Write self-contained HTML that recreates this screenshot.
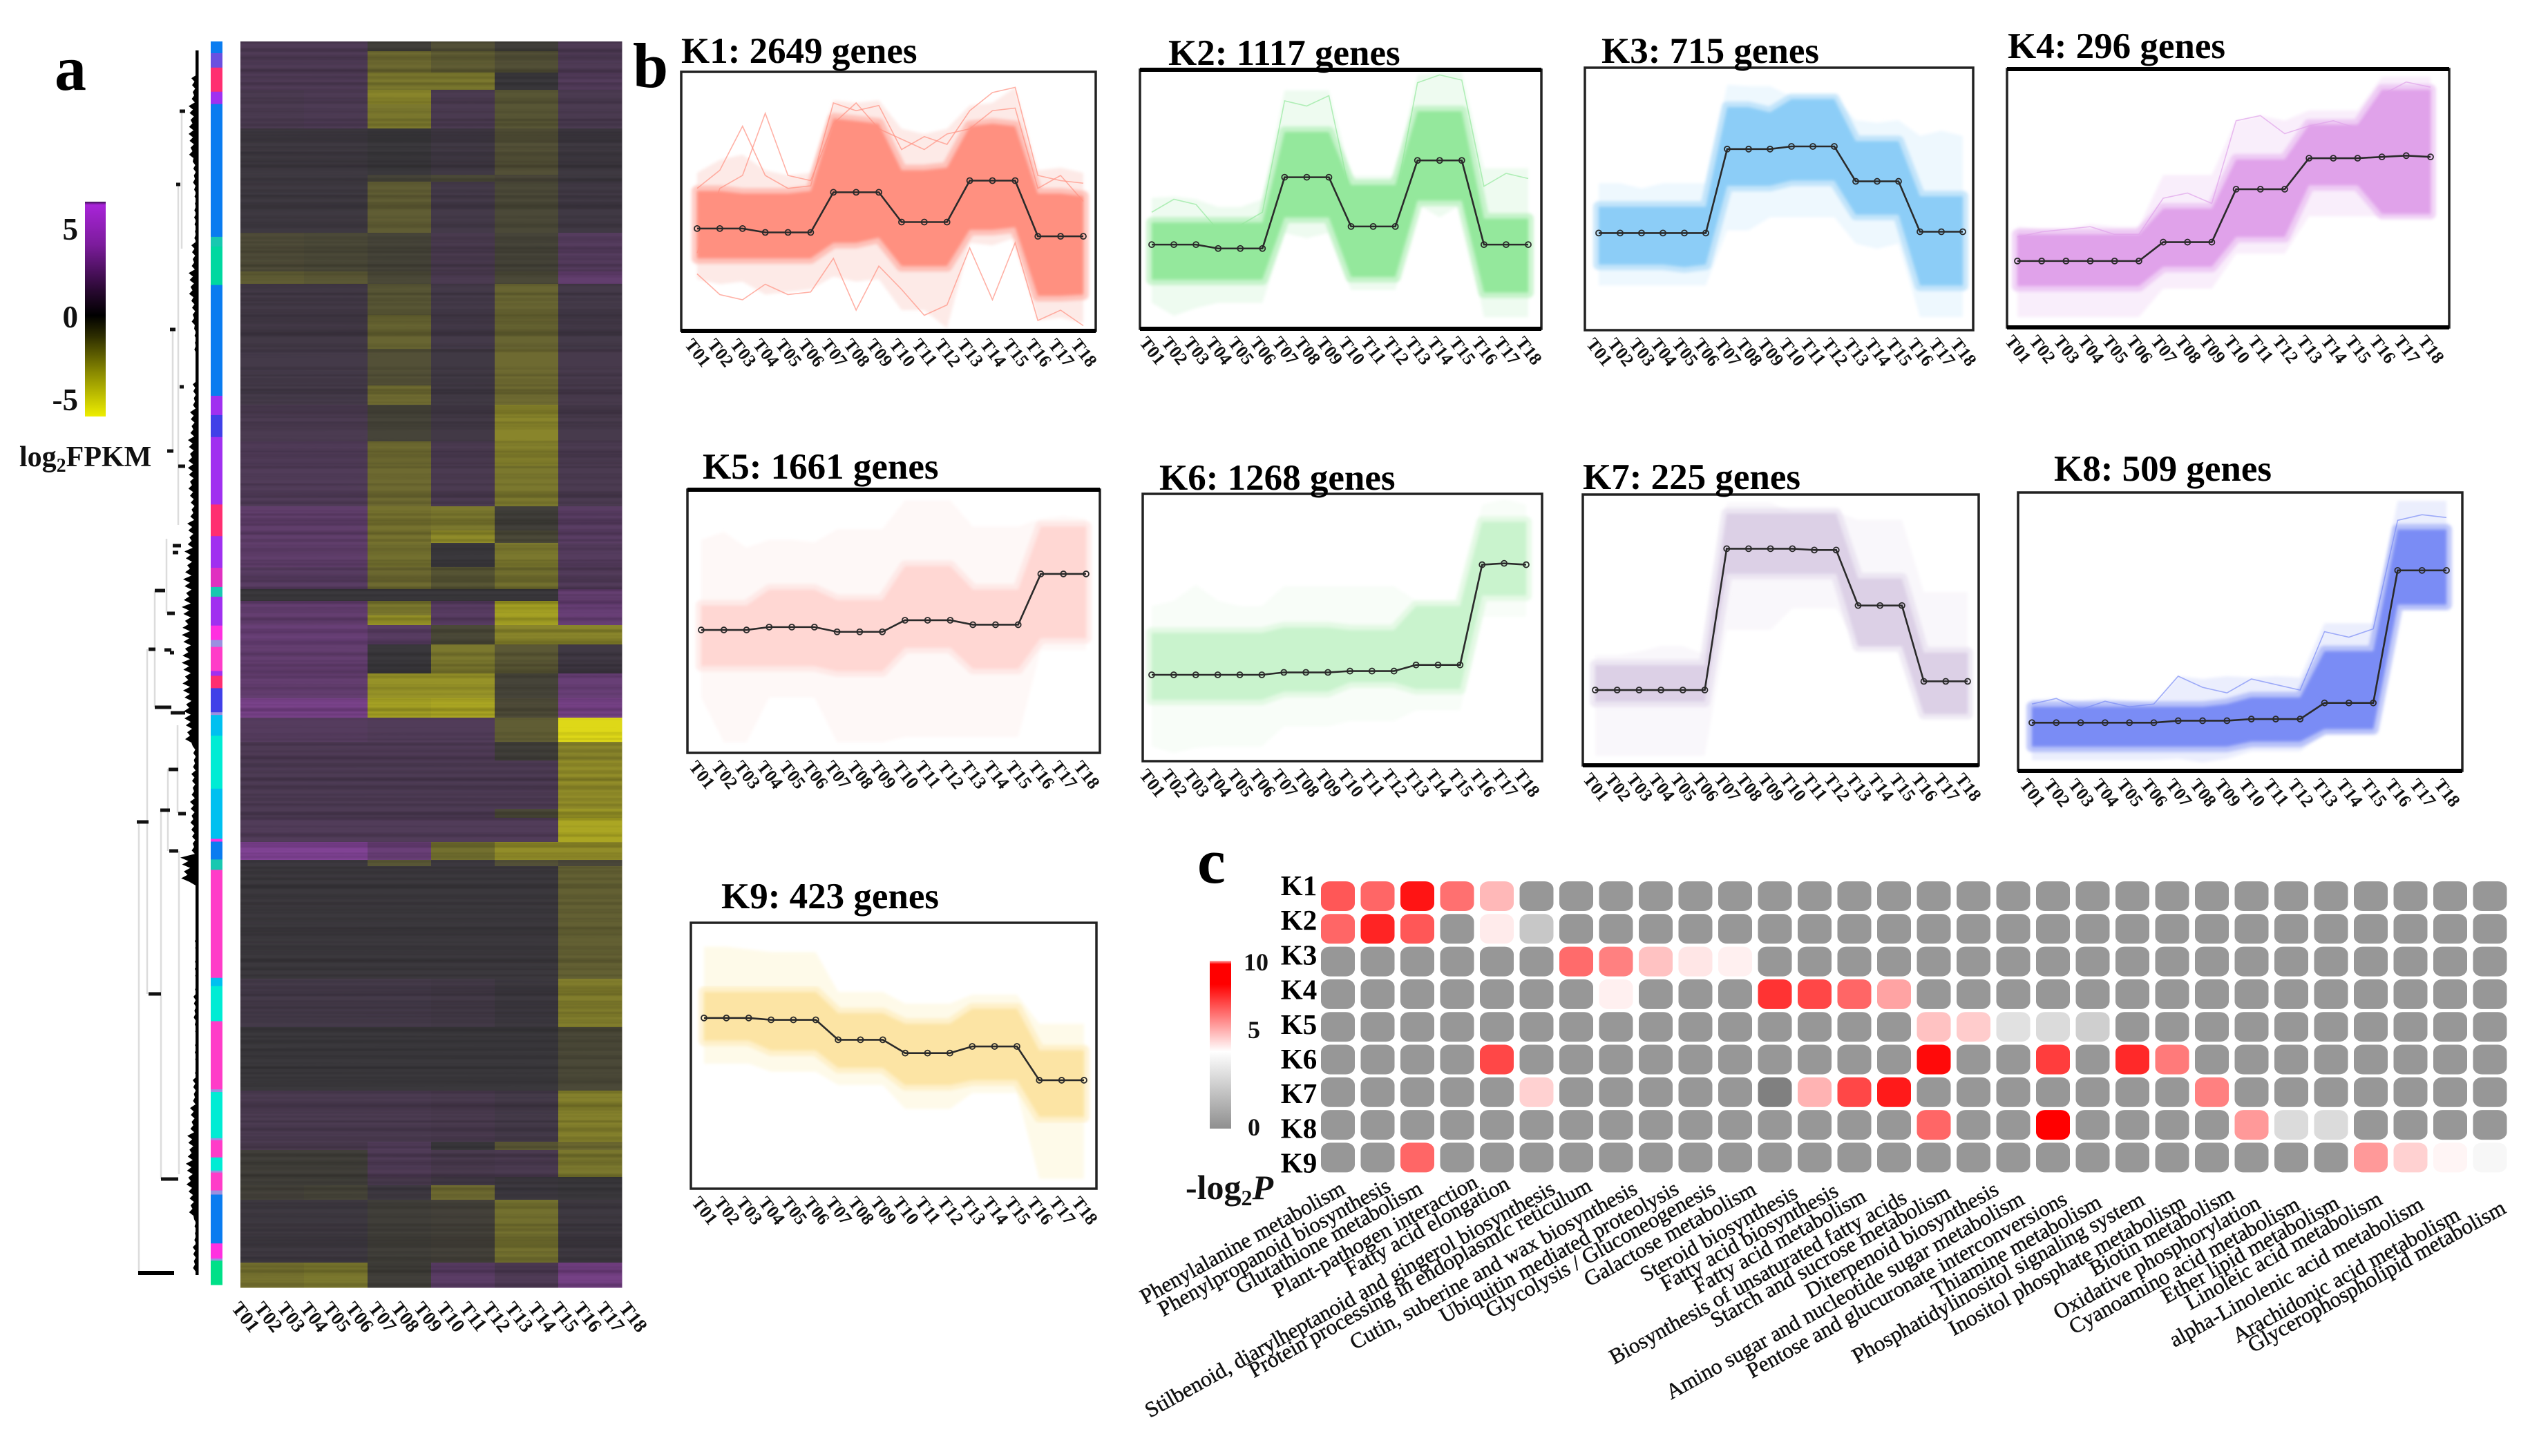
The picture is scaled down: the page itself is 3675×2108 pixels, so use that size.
<!DOCTYPE html>
<html lang="en">
<head>
<meta charset="utf-8">
<title>Gene expression clusters figure</title>
<style>
html,body{margin:0;padding:0;background:#fff;}
svg{display:block;font-family:"Liberation Serif",serif;}
.panel-letter{font-size:92px;font-weight:bold;fill:#000;}
.cluster-title{font-size:53px;font-weight:bold;fill:#000;}
.tick{font-size:26px;font-weight:bold;fill:#111;}
.path-label{font-size:31.5px;fill:#111;stroke:#111;stroke-width:.5;text-anchor:end;}
.row-label{font-size:41px;font-weight:bold;fill:#000;text-anchor:middle;dominant-baseline:central;}
.legend-num{font-size:45px;font-weight:bold;fill:#111;text-anchor:end;}
</style>
</head>
<body>
<svg id="figure" xmlns="http://www.w3.org/2000/svg" width="3675" height="2108" viewBox="0 0 3675 2108">
<defs>
<linearGradient id="expr-grad" x1="0" y1="0" x2="0" y2="1">
<stop offset="0" stop-color="#3a1050"/><stop offset="0.015" stop-color="#a824d8"/><stop offset="0.2" stop-color="#7c1c9c"/><stop offset="0.42" stop-color="#26082e"/><stop offset="0.53" stop-color="#000"/><stop offset="0.62" stop-color="#2a2a00"/><stop offset="0.8" stop-color="#8c8c00"/><stop offset="1" stop-color="#eeee00"/>
</linearGradient>
<linearGradient id="enrich-grad" x1="0" y1="0" x2="0" y2="1">
<stop offset="0" stop-color="#ffb0b0"/><stop offset="0.02" stop-color="#ff0000"/><stop offset="0.14" stop-color="#ff0000"/><stop offset="0.54" stop-color="#ffffff"/><stop offset="1" stop-color="#8f8f8f"/>
</linearGradient>
<filter id="soft" x="-5%" y="-5%" width="110%" height="110%"><feGaussianBlur stdDeviation="3"/></filter>
<filter id="soft-faint" x="-5%" y="-5%" width="110%" height="110%"><feGaussianBlur stdDeviation="2"/></filter>
<filter id="stripes" x="0" y="0" width="100%" height="100%">
<feTurbulence type="fractalNoise" baseFrequency="0.0004 0.16" numOctaves="2" seed="5"/>
<feColorMatrix type="matrix" values="0 0 0 0 0  0 0 0 0 0  0 0 0 0 0  2.2 0 0 0 -0.85"/>
</filter>
</defs>

<text class="panel-letter" x="79" y="130">a</text>
<text class="panel-letter" x="916" y="126">b</text>
<text class="panel-letter" x="1733" y="1278">c</text>

<!-- Expression colour key -->
<rect x="123" y="292" width="30" height="311" fill="url(#expr-grad)"/>
<text class="legend-num" x="113" y="347">5</text>
<text class="legend-num" x="113" y="474">0</text>
<text class="legend-num" x="113" y="594">-5</text>
<text x="28" y="675" font-size="42" font-weight="bold" fill="#111">log<tspan font-size="28" dy="8">2</tspan><tspan dy="-8">FPKM</tspan></text>

<!-- Dendrogram branches -->
<g>
<path d="M201 1190V1843M213 940V1439M224 855V1024M233 1173V1707M241 780V888M243 1113V1232M257 1050V1177M259 1232V1700M258 267V760M250 477V653M263 161V360" fill="none" stroke="#dcdcdc" stroke-width="2.5"/>
<path d="M198 1190H215M215 940H225M224 855H239M224 1024H248M232 1173H246M244 1114H258M258 1178H269M245 1232H258M242 888H253M238 941H248M247 1032H268M242 653H251M246 477H254M255 267H261M260 161H268M215 1439H233M233 1707H258M260 560H266M258 675H268M250 800H258M246 945H252M250 790H262" fill="none" stroke="#111" stroke-width="5"/>
<path d="M200 1843H252" fill="none" stroke="#000" stroke-width="6"/>
</g>
<g id="dendrogram-leaves"></g>
<g id="annotation-strip"></g>
<g id="heatmap"></g>
<rect x="348" y="60" width="552" height="1804" filter="url(#stripes)" opacity="0.2"/>
<g id="heatmap-ticks"></g>
<g id="panels"></g>
<g id="enrichment"></g>

<!-- Enrichment colour key -->
<rect x="1751" y="1391" width="31" height="243" fill="url(#enrich-grad)"/>
<text x="1800" y="1405" font-size="36" font-weight="bold" fill="#111">10</text>
<text x="1806" y="1503" font-size="36" font-weight="bold" fill="#111">5</text>
<text x="1806" y="1644" font-size="36" font-weight="bold" fill="#111">0</text>
<text x="1716" y="1736" font-size="50" font-weight="bold" fill="#111">-log<tspan font-size="32" dy="9">2</tspan><tspan dy="-9" font-style="italic">P</tspan></text>

<!-- Pathway labels -->
<g>
<text class="path-label" transform="translate(1949,1727) rotate(-29)">Phenylalanine metabolism</text>
<text class="path-label" transform="translate(2015,1723) rotate(-29)">Phenylpropanoid biosynthesis</text>
<text class="path-label" transform="translate(2061,1727) rotate(-29)">Glutathione metabolism</text>
<text class="path-label" transform="translate(2141,1718) rotate(-29)">Plant-pathogen interaction</text>
<text class="path-label" transform="translate(2187,1720) rotate(-29)">Fatty acid elongation</text>
<text class="path-label" transform="translate(2253,1727) rotate(-29)">Stilbenoid, diarylheptanoid and gingerol biosynthesis</text>
<text class="path-label" transform="translate(2306,1723) rotate(-29)">Protein processing in endoplasmic reticulum</text>
<text class="path-label" transform="translate(2372,1727) rotate(-29)">Cutin, suberine and wax biosynthesis</text>
<text class="path-label" transform="translate(2432,1727) rotate(-29)">Ubiquitin mediated proteolysis</text>
<text class="path-label" transform="translate(2485,1727) rotate(-29)">Glycolysis / Gluconeogenesis</text>
<text class="path-label" transform="translate(2544,1728) rotate(-29)">Galactose metabolism</text>
<text class="path-label" transform="translate(2604,1733) rotate(-29)">Steroid biosynthesis</text>
<text class="path-label" transform="translate(2663,1730) rotate(-29)">Fatty acid biosynthesis</text>
<text class="path-label" transform="translate(2703,1738) rotate(-29)">Fatty acid metabolism</text>
<text class="path-label" transform="translate(2762,1740) rotate(-29)">Biosynthesis of unsaturated fatty acids</text>
<text class="path-label" transform="translate(2825,1733) rotate(-29)">Starch and sucrose metabolism</text>
<text class="path-label" transform="translate(2895,1728) rotate(-29)">Diterpenoid biosynthesis</text>
<text class="path-label" transform="translate(2932,1742) rotate(-29)">Amino sugar and nucleotide sugar metabolism</text>
<text class="path-label" transform="translate(2994,1742) rotate(-29)">Pentose and glucuronate interconversions</text>
<text class="path-label" transform="translate(3044,1747) rotate(-29)">Thiamine metabolism</text>
<text class="path-label" transform="translate(3106,1743) rotate(-29)">Phosphatidylinositol signaling system</text>
<text class="path-label" transform="translate(3166,1747) rotate(-29)">Inositol phosphate metabolism</text>
<text class="path-label" transform="translate(3236,1735) rotate(-29)">Biotin metabolism</text>
<text class="path-label" transform="translate(3274,1748) rotate(-29)">Oxidative phosphorylation</text>
<text class="path-label" transform="translate(3331,1750) rotate(-29)">Cyanoamino acid metabolism</text>
<text class="path-label" transform="translate(3388,1748) rotate(-29)">Ether lipid metabolism</text>
<text class="path-label" transform="translate(3450,1742) rotate(-29)">Linoleic acid metabolism</text>
<text class="path-label" transform="translate(3510,1750) rotate(-29)">alpha-Linolenic acid metabolism</text>
<text class="path-label" transform="translate(3563,1765) rotate(-29)">Arachidonic acid metabolism</text>
<text class="path-label" transform="translate(3629,1755) rotate(-29)">Glycerophospholipid metabolism</text>
</g>
</svg>

<script>
/* ---------- sample labels ---------- */
const sampleLabels = ['T01','T02','T03','T04','T05','T06','T07','T08','T09','T10','T11','T12','T13','T14','T15','T16','T17','T18'];

/* ---------- panel a: heatmap bands (gene-row span, then value per sample triple) ---------- */
const rowSpans = [14,31,25,21,35,67,10,74,56,18,45,49,53,28,53,35,59,35,18,35,32,17,21,14,28,42,36,28,35,27,70,13,35,26,9,163,70,92,74,12,39,12,21,91,36];
const rowValues = [
 [1,1,-.3,-1,-.3,1],[1,1,-2,-1.5,-1,1],[1,1,-2.5,-2.5,0,1.2],[.8,.9,-3,.8,-1.2,.8],[.8,.9,-2.5,.8,-1.2,.8],
 [.2,.2,0,.3,-1,.2],[.2,.2,-.5,-.7,-.6,.2],[.2,.2,-1.5,.5,-.7,.3],[-.8,-.7,-.5,.7,-.5,1.3],[-1.5,-1.3,-.7,.8,-.7,1.9],
 [.4,.4,-1.2,.5,-1.8,.5],[.4,.4,-1.8,.5,-1.8,.5],[.5,.5,-1,.3,-2,.6],[.5,.5,-2,.3,-2,.6],[.8,.8,-.5,.4,-3,.6],
 [1.1,1.1,-2,.8,-2.8,.8],[1.1,1.1,-2,.8,-2.5,.8],[1.8,1.8,-2.3,-2.5,-.3,1.5],[1.8,1.8,-2.3,-3.2,-.7,1.5],[1.8,1.8,-2.2,0,-2.5,1.3],
 [1.5,1.5,-2,-1.2,-2.2,1.2],[0,0,0,0,0,2],[2,2,-2.5,1.5,-4,2.2],[2,2,-3.5,1.5,-4,2.2],[2.2,2.2,1.5,-.7,-3,-3],
 [2,2,0,-2.5,-1.3,.3],[2,2,-3.5,-3.5,-.5,2.2],[3,3,-4,-4.2,-.8,2.8],[1.3,1.3,1.1,1.1,-1.5,-6],[1,1,1,1,-.3,-3],
 [.9,.9,.9,.9,.9,-3.3],[.9,.9,.9,.9,-.7,-3.6],[1.1,1.1,1.1,1.1,1.1,-4.2],[3.4,3.4,2.3,-2.2,-3.3,-3.3],[.1,.1,-1.2,.1,-1,-.6],
 [.05,.05,.05,.05,.05,-1.6],[.5,.5,.5,.4,.1,-2.7],[0,0,0,0,0,-.7],[.8,.8,.8,.7,.5,-2.8],[.7,.7,1.1,0,-1.3,-2],
 [-.3,-.3,1,.7,.8,-2.5],[-.3,-.3,.7,.4,.1,0],[-.4,-.5,.2,-2,.1,0],[.2,.2,-.3,-.4,-2.2,.2],[-2.3,-2.5,-.3,1.6,1,2.8]
];
/* annotation strip: span then colour class */
const stripSpans = [17,21,35,18,193,14,56,161,28,32,98,46,46,28,14,42,21,10,35,7,18,35,4,30,77,73,4,26,15,13,144,12,51,4,95,4,67,3,25,19,3,26,6,71,22,3,35];
const stripClasses = ['blue','violet','rose','purple','blue','teal','mint','blue','purple','indigo','purple','rose','purple','magenta','teal','purple','hot','lav','pink','purple','rose','indigo','lav','sky','aqua','sky','hot','blue','teal','pink','pink','sky','aqua','pink','pink','lav','aqua','lav','pink','aqua','lav','pink','lav','blue','hot','lav','green'];
/* dendrogram leaf depth, sampled evenly top to bottom */
const leafDepths = [4,10,14,14,8,6,6,10,14,10,6,4,8,12,15,15,12,16,20,22,24,24,24,22,20,8,10,12,10,26,4,4,5,5,7,5,5,8,12,16,18,14,6,8,20];

/* ---------- panel b: cluster profiles, percent of plot height ---------- */
const medianK1 = [39.5,39.5,39.5,38,38,38,53.5,53.5,53.5,42,42,42,58,58,58,36.5,36.5,36.5];
const denseHighK1 = [54,54,53,53,53,54,82,81,80,62,62,63,79,80,79,53,53,52];
const denseLowK1 = [28,28,28,28,28,28,34,34,36,25,25,25,39,39,40,13.5,13.5,14];
const faintHighK1 = [61,66,68,62,60,61,89,88,89,78,76,78,87,88,94,62,63,61];
const faintLowK1 = [20,18,19,14,15,16,21,19,20,8,8,1,34,33,36,4,5,3];
const outlierAK1 = [55,62,79,60,55,56,88,85,87,70,75,72,85,92,94,60,58,57];
const outlierBK1 = [30,55,60,84,60,58,80,88,78,74,70,76,78,85,86,55,60,50];
const outlierCK1 = [22,14,12,18,14,15,28,8,25,16,6,10,32,12,34,4,8,2];

const medianK2 = [32.5,32.5,32.5,31,31,31,58.5,58.5,58.5,39.5,39.5,39.5,65,65,65,32.5,32.5,32.5];
const denseHighK2 = [41,41,41,41,41,41,76,76,76,55.5,55.5,55.5,84,84,84,42.5,42.5,42.5];
const denseLowK2 = [19,19,19,19,19,19,43,43,43,20,20,20,49.5,49.5,49.5,14,14,14];
const faintHighK2 = [50.5,51,50,47,47,50,92,92,92,59,59,59,98,99,99,62,62,62];
const faintLowK2 = [10,5,8,10,10,10,37,35,37,15,15,15,48,43,48,4.5,4.5,4.5];
const outlierAK2 = [45,50,48,38,40,45,88,86,90,50,52,50,95,98,96,55,60,58];

const medianK3 = [37,37,37,37,37,37,69,69,69,70,70,70,56.7,56.7,56.7,37.5,37.5,37.5];
const denseHighK3 = [47,47,47,47,47,47,85,85,83,88,88,88,72,72,72,51,51,51];
const denseLowK3 = [25,25,25,25,24,25,55,55,55,57,57,57,44,44,44,17,17,17];
const faintHighK3 = [56,56,54,56,56,56,93.5,93,93,89,89,89,80,79,80,74,76,74];
const faintLowK3 = [17,17,17,17,17,17,38,38,43,43,43,43,33,31,33,5,5,5];

const medianK4 = [25.7,25.7,25.7,25.7,25.7,25.7,33,33,33,53.5,53.5,53.5,65.5,65.5,65.5,66,66.5,66];
const denseHighK4 = [36,36,36,36,36,36,46,46,46,65,65,65,78.5,78.5,78.5,92,92,92];
const denseLowK4 = [16,16,16,16,16,16,23.5,23.5,23.5,35,35,35,55,55,55,44,44,44];
const faintHighK4 = [39,38,38,40,39,39,59,59,59,80,82,80,84,84,84,97,97,97];
const faintLowK4 = [4,4,4,4,4,4,15,15,15,28.5,28.5,28.5,43,43,43,43,43,43];
const outlierAK4 = [35,37,38,39,36,36,50,52,48,80,82,75,78,80,77,90,95,93];

const medianK5 = [46.7,46.7,46.7,47.8,47.8,47.8,46,46,46,50.4,50.4,50.4,48.7,48.7,48.7,68,68,68];
const denseHighK5 = [56,56,56,62,62,62,58,58,58,71,71,71,62,62,62,86,86,86];
const denseLowK5 = [33,33,33,33,33,33,31,31,31,40,40,40,32,32,32,43.6,43.6,43.6];
const faintHighK5 = [81,84,78,81,81,80,85,85,85,96,96,96,86,86,86,89,90,89];
const faintLowK5 = [21,4,4,21,21,21,4,4,4,6,6,6,6,6,6,39,39,39];

const medianK6 = [32.3,32.3,32.3,32.3,32.3,32.3,33.2,33.2,33.2,33.7,33.7,33.7,36,36,36,73.5,74,73.5];
const denseHighK6 = [48,48,48,48,48,48,50,50,50,49,49,49,58,58,58,89.5,89.5,89.5];
const denseLowK6 = [23,23,23,23,23,23,26,26,26,29.5,29.5,29.5,27,27,27,62,62,62];
const faintHighK6 = [58,60,66,60,58,58,65.5,65.5,65.5,65.5,65.5,65.5,60,60,60,96,98,96];
const faintLowK6 = [5.5,3,5,5.5,5.5,5.5,13,13,13,15,15,15,19,19,19,54,54,54];

const medianK7 = [27.8,27.8,27.8,27.8,27.8,27.8,80,80,80,80,79.5,79.5,59,59,59,31,31,31];
const denseHighK7 = [37,37,37,37,37,37,93,93,93,93,93,93,69,69,69,41.6,41.6,41.6];
const denseLowK7 = [23.5,23.5,23.5,23.5,23.5,23.5,70.7,70.7,70.7,70.7,70.7,70.7,44,44,44,19,19,19];
const faintHighK7 = [40.7,40.7,42,44,44,41,97,97,97,93.5,93.5,93.5,90.7,90.7,90.7,64,64,64];
const faintLowK7 = [3.5,3.5,3.5,3.5,3.5,3.5,50,50,50,58,58,58,44,44,44,18.5,18.5,18.5];

const medianK8 = [17.3,17.3,17.3,17.3,17.3,17.3,18,18,18,18.6,18.6,18.6,24.4,24.4,24.4,72,72,72];
const denseHighK8 = [23,23,23,23,23,23,23,23,24,26.4,26.4,26.4,43,43,43,86.7,86.7,86.7];
const denseLowK8 = [8.7,8.7,8.7,8.7,8.7,8.7,8.7,8.7,8.7,10.5,10.5,10.5,15,15,15,59.7,59.7,59.7];
const faintHighK8 = [25.5,26,25,26,25,24,34,33,34,33.5,34,33.5,53,53,53,97,97,97];
const faintLowK8 = [3.8,3.8,3.8,3.8,3.8,3.8,4.3,3,4.3,7,7,7,13.5,13.5,13.5,58,58,58];
const outlierAK8 = [24,26,22,25,23,24,34,30,28,33,31,29,50,48,51,90,92,91];

const medianK9 = [64.2,64.2,64.2,63.5,63.5,63.5,56,56,56,51,51,51,53.5,53.5,53.5,40.8,40.8,40.8];
const denseHighK9 = [74,74,74,74,74,74,66,66,66,62,62,62,67.7,67.7,67.7,52,52,52];
const denseLowK9 = [55.7,55.7,55.7,52,52,52,45.5,45.5,45.5,39,39,39,40.8,40.8,40.8,27,27,27];
const faintHighK9 = [91,91,90,89,89,89,74,74,74,69.6,69.6,69.6,73,73,73,62,62,62];
const faintLowK9 = [47,47,47,44,44,44,39,39,39,30,30,30,36,36,36,3.7,3.7,3.7];

/* ---------- panel c: -log2 P per pathway ---------- */
const clusterNames = ['K1','K2','K3','K4','K5','K6','K7','K8','K9'];
const enrichK1 = [8.3,8,9.6,7.8,6.4,.9,.9,.9,.9,.9,.9,.9,.9,.9,.9,.9,.9,.9,.9,.9,.9,.9,.9,.9,.9,.9,.9,.9,.9,.9];
const enrichK2 = [8,9.3,8.3,.9,5.4,2.8,.9,.9,.9,.9,.9,.9,.9,.9,.9,.9,.9,.9,.9,.9,.9,.9,.9,.9,.9,.9,.9,.9,.9,.9];
const enrichK3 = [.9,.9,.9,.9,.9,.9,7.9,7.5,6.2,5.5,5.3,.9,.9,.9,.9,.9,.9,.9,.9,.9,.9,.9,.9,.9,.9,.9,.9,.9,.9,.9];
const enrichK4 = [.9,.9,.9,.9,.9,.9,.9,5.3,.9,.9,.9,9,8.6,8,6.8,.9,.9,.9,.9,.9,.9,.9,.9,.9,.9,.9,.9,.9,.9,.9];
const enrichK5 = [.9,.9,.9,.9,.9,.9,.9,.9,.9,.9,.9,.9,.9,.9,.9,6.2,6,3.8,3.6,3.1,.9,.9,.9,.9,.9,.9,.9,.9,.9,.9];
const enrichK6 = [.9,.9,.9,.9,8.6,.9,.9,.9,.9,.9,.9,.9,.9,.9,.9,9.8,.9,.9,8.8,.9,9.2,7.6,.9,.9,.9,.9,.9,.9,.9,.9];
const enrichK7 = [.9,.9,.9,.9,.9,5.9,.9,.9,.9,.9,.9,0,6.5,8.6,9.5,.9,.9,.9,.9,.9,.9,.9,7.5,.9,.9,.9,.9,.9,.9,.9];
const enrichK8 = [.9,.9,.9,.9,.9,.9,.9,.9,.9,.9,.9,.9,.9,.9,.9,8,.9,.9,10,.9,.9,.9,.9,7,3.6,3.6,.9,.9,.9,.9];
const enrichK9 = [.9,.9,8,.9,.9,.9,.9,.9,.9,.9,.9,.9,.9,.9,.9,.9,.9,.9,.9,.9,.9,.9,.9,.9,.9,.9,7,5.9,5.2,4.7];

/* ---------- helpers ---------- */
const NS = 'http://www.w3.org/2000/svg';
function mk(tag, attrs, parent){
  const el = document.createElementNS(NS, tag);
  for (const k in attrs) el.setAttribute(k, attrs[k]);
  parent.appendChild(el);
  return el;
}
function hex(a){ return '#' + a.map(v => Math.round(v).toString(16).padStart(2,'0')).join(''); }
function mix(a,b,t){ return a.map((v,i) => v + (b[i]-v)*t); }

/* ---------- heatmap colour + axis ---------- */
const neutral = [58,56,60], purple = [150,70,175], olive = [222,216,24];
function exprColor(v){
  if (v >= 0) return hex(mix(neutral, purple, Math.min(v/4.4,1)));
  return hex(mix(neutral, olive, Math.min(Math.pow(-v/6,1.05),1)));
}
const heatLeft = 348, heatTop = 60, heatWidth = 552, heatHeight = 1804;
function heatX(group){ return heatLeft + group*heatWidth/6; }

const hmGroup = document.getElementById('heatmap');
const spanTotal = rowSpans.reduce((a,b)=>a+b,0);
function heatY(units){ return heatTop + units*heatHeight/spanTotal; }
let cursor = 0;
rowSpans.forEach(function(span,r){
  const y0 = heatY(cursor), y1 = heatY(cursor+span);
  rowValues[r].forEach(function(v,g){
    const cell = mk('rect',{x:heatX(g),y:y0,width:heatX(g+1)-heatX(g)+0.5,height:y1-y0+0.5,fill:exprColor(v)},hmGroup);
    
    
  });
  cursor += span;
});

const hmTicks = document.getElementById('heatmap-ticks');
sampleLabels.forEach(function(label,i){
  const x = 334 + i*33;
  const t = mk('text',{class:'tick',transform:'translate('+x+',1894) rotate(52)','font-size':'28',style:'font-size:28px'},hmTicks);
  t.textContent = label;
  
  
});

/* ---------- annotation strip ---------- */
const stripPalette = {blue:'#0a7cf0',violet:'#6a50e0',rose:'#ff2e70',purple:'#a030f0',teal:'#18c8b0',mint:'#00d8a0',indigo:'#4040e8',magenta:'#e030c0',hot:'#ff30e0',lav:'#9a90e0',pink:'#ff3cc8',sky:'#00c0f0',aqua:'#00ecd4',green:'#00e088'};
const stripGroup = document.getElementById('annotation-strip');
const stripTotal = stripSpans.reduce((a,b)=>a+b,0);
let stripCursor = 0;
stripSpans.forEach(function(span,i){
  const y0 = 60 + stripCursor*(1860-60)/stripTotal;
  const h = span*(1860-60)/stripTotal;
  const seg = mk('rect',{x:305,y:y0,width:17,height:h+0.5,fill:stripPalette[stripClasses[i]]},stripGroup);
  
  
  stripCursor += span;
});

/* ---------- dendrogram leaves ---------- */
const leafGroup = document.getElementById('dendrogram-leaves');
const leafTop = 73, leafBottom = 1846, leafRight = 287;
const toothShape = [1,.55,.9,.45,.8,.6,.95,.5];
function leafY(i){ return leafTop + i*(leafBottom-leafTop)/(leafDepths.length-1); }
let leafPts = [leafRight+','+leafTop];
leafDepths.forEach(function(d,i){
  const y = leafY(i);
  toothShape.forEach(function(f,k){
    if (y + k*5 < leafBottom) leafPts.push((leafRight-d*f)+','+(y+k*5));
  });
});
leafPts.push(leafRight+','+leafBottom);
const leafPoly = mk('polygon',{points:leafPts.join(' '),fill:'#000'},leafGroup);


const spine = mk('rect',{x:283,y:leafTop,width:4.5,height:leafBottom-leafTop,fill:'#000'},leafGroup);



/* ---------- cluster panels ---------- */
const panelLayouts = [
 {id:'k1',title:'K1: 2649 genes',tx:986,ty:91,l:986,t:104,r:1586,b:479,x0:1009,x1:1568,dense:'#ff9080',faint:'#fdeae7',heavyB:1},
 {id:'k2',title:'K2: 1117 genes',tx:1691,ty:94,l:1650,t:101,r:2231,b:476,x0:1667,x1:2212,dense:'#94e89c',faint:'#eefbf0',heavyT:1,heavyB:1},
 {id:'k3',title:'K3: 715 genes',tx:2318,ty:91,l:2294,t:98,r:2856,b:478,x0:2314,x1:2841,dense:'#8ccdf7',faint:'#eef8fe'},
 {id:'k4',title:'K4: 296 genes',tx:2906,ty:84,l:2905,t:100,r:3545,b:474,x0:2920,x1:3518,dense:'#e0a2ea',faint:'#f9eefb',heavyT:1,heavyB:1},
 {id:'k5',title:'K5: 1661 genes',tx:1017,ty:693,l:995,t:709,r:1592,b:1090,x0:1015,x1:1572,dense:'#ffd7d3',faint:'#fef8f7',heavyT:1},
 {id:'k6',title:'K6: 1268 genes',tx:1678,ty:709,l:1654,t:715,r:2232,b:1102,x0:1667,x1:2209,dense:'#c9f3cd',faint:'#f8fdf8'},
 {id:'k7',title:'K7: 225 genes',tx:2291,ty:708,l:2291,t:716,r:2864,b:1108,x0:2309,x1:2848,dense:'#dcd0e6',faint:'#f9f7fb',heavyB:1},
 {id:'k8',title:'K8: 509 genes',tx:2973,ty:696,l:2921,t:713,r:3564,b:1116,x0:2941,x1:3541,dense:'#7a8cf5',faint:'#ebeefd',heavyB:1},
 {id:'k9',title:'K9: 423 genes',tx:1044,ty:1315,l:1000,t:1336,r:1587,b:1721,x0:1019,x1:1569,dense:'#fce4a4',faint:'#fefae9'}
];
const panelSeries = {
 k1:[medianK1,denseHighK1,denseLowK1,faintHighK1,faintLowK1],
 k2:[medianK2,denseHighK2,denseLowK2,faintHighK2,faintLowK2],
 k3:[medianK3,denseHighK3,denseLowK3,faintHighK3,faintLowK3],
 k4:[medianK4,denseHighK4,denseLowK4,faintHighK4,faintLowK4],
 k5:[medianK5,denseHighK5,denseLowK5,faintHighK5,faintLowK5],
 k6:[medianK6,denseHighK6,denseLowK6,faintHighK6,faintLowK6],
 k7:[medianK7,denseHighK7,denseLowK7,faintHighK7,faintLowK7],
 k8:[medianK8,denseHighK8,denseLowK8,faintHighK8,faintLowK8],
 k9:[medianK9,denseHighK9,denseLowK9,faintHighK9,faintLowK9]
};
const panelOutliers = {k1:[outlierAK1,outlierBK1,outlierCK1],k2:[outlierAK2],k4:[outlierAK4],k8:[outlierAK8]};
const panelsRoot = document.getElementById('panels');
panelLayouts.forEach(function(p){
  const s = panelSeries[p.id];
  const xScale = i => p.x0 + i*(p.x1-p.x0)/17;
  const yScale = v => p.b - v*(p.b-p.t)/100;
  const g = mk('g',{},panelsRoot);
  
  

  function bandPoints(hi,lo){
    return hi.map((v,i)=>xScale(i)+','+yScale(v)).concat(lo.map((v,i)=>xScale(i)+','+yScale(v)).reverse()).join(' ');
  }
  const faintBand = mk('polygon',{points:bandPoints(s[3],s[4]),fill:p.faint,filter:'url(#soft-faint)'},g);
  
  

  (panelOutliers[p.id]||[]).forEach(function(series){
    const ol = mk('polyline',{points:series.map((v,i)=>xScale(i)+','+yScale(v)).join(' '),fill:'none',stroke:p.dense,'stroke-width':1.6,'stroke-opacity':.7},g);
    
    
  });

  const halo = mk('polygon',{points:bandPoints(s[1],s[2]),fill:'none',stroke:p.dense,'stroke-width':16,'stroke-opacity':.45,'stroke-linejoin':'round',filter:'url(#soft-faint)'},g);
  
  

  const denseBand = mk('polygon',{points:bandPoints(s[1],s[2]),fill:p.dense,filter:'url(#soft-faint)'},g);
  
  

  const line = mk('polyline',{points:s[0].map((v,i)=>xScale(i)+','+yScale(v)).join(' '),fill:'none',stroke:'#2a2a2a','stroke-width':2.6},g);
  
  
  s[0].forEach(function(v,i){
    const c = mk('circle',{cx:xScale(i),cy:yScale(v),r:4,fill:'none',stroke:'#2a2a2a','stroke-width':1.8},g);
    
    
  });

  const box = mk('rect',{x:p.l,y:p.t,width:p.r-p.l,height:p.b-p.t,fill:'none',stroke:'#222','stroke-width':3.5},g);
  
  
  if (p.heavyT){
    const ht = mk('line',{x1:p.l,x2:p.r,y1:p.t,y2:p.t,stroke:'#000','stroke-width':6},g);
    
    
  }
  if (p.heavyB){
    const hb = mk('line',{x1:p.l,x2:p.r,y1:p.b,y2:p.b,stroke:'#000','stroke-width':6},g);
    
    
  }
  const title = mk('text',{class:'cluster-title',x:p.tx,y:p.ty},g);
  title.textContent = p.title;
  
  

  sampleLabels.forEach(function(label,i){
    const t = mk('text',{class:'tick',transform:'translate('+(xScale(i)-19)+','+(p.b+20)+') rotate(52)'},g);
    t.textContent = label;
    
    
  });
});

/* ---------- enrichment grid ---------- */
const enrichRows = [enrichK1,enrichK2,enrichK3,enrichK4,enrichK5,enrichK6,enrichK7,enrichK8,enrichK9];
function enrichColor(v){
  if (v < 5) return hex(mix([128,128,128],[255,255,255],v/5));
  return hex(mix([255,255,255],[255,0,0],(v-5)/5));
}
const enrichRoot = document.getElementById('enrichment');
const gridLeft = 1912, gridStepX = 57.5, gridTop = 1276, gridStepY = 47.3;
enrichRows.forEach(function(row,r){
  const y = gridTop + r*gridStepY;
  const lab = mk('text',{class:'row-label',x:1880,y:1282 + r*50.2},enrichRoot);
  lab.textContent = clusterNames[r];
  
  
  row.forEach(function(v,c){
    const cell = mk('rect',{x:gridLeft+c*gridStepX,y:y,width:49,height:43,rx:13,ry:11,fill:enrichColor(v)},enrichRoot);
    
    
  });
});
</script>
</body>
</html>
